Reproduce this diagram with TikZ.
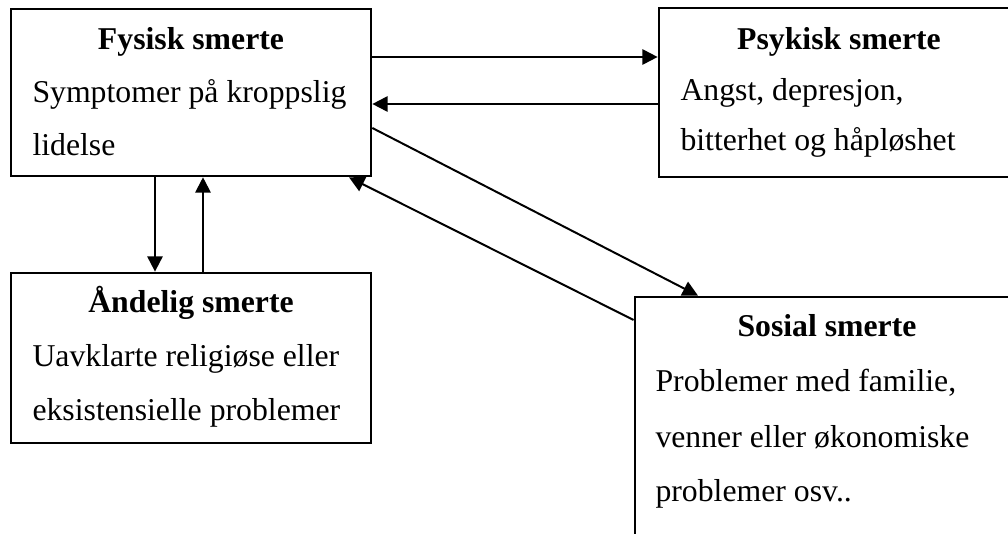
\documentclass[tikz,border=0pt]{standalone}
\usepackage{fontspec}
\setmainfont{Liberation Serif}
\usepackage{tikz}
\usetikzlibrary{arrows.meta}

\tikzset{
  painbox/.style={draw,line width=1pt,minimum width=136.1pt,inner sep=0pt},
  ttl/.style={anchor=base,inner sep=0pt,font=\fontsize{12}{14}\selectfont\bfseries},
  txt/.style={anchor=base west,inner sep=0pt,font=\fontsize{12}{14}\selectfont},
  arr/.style={-{Triangle[length=5.8pt,width=5.8pt]},line width=0.75pt}
}

\begin{document}
\begin{tikzpicture}[x=0.378pt,y=-0.378pt]
    \path[use as bounding box,clip] (0,0) rectangle (1008,534);

    % Fysisk smerte
    \node[painbox,minimum height=63.1pt] (fys) at (191,92.5) {};
    \node[ttl] (fys-t) at (191,50) {Fysisk smerte};
    \foreach \ln [count=\i] in {Symptomer på kroppslig, lidelse}
      \node[txt] (fys-\i) at (32,{50+53*\i}) {\ln};

    % Psykisk smerte
    \node[painbox,minimum height=63.9pt] (psy) at (839,92.5) {};
    \node[ttl] (psy-t) at (839,50) {Psykisk smerte};
    \foreach \ln [count=\i] in {{Angst, depresjon,}, {bitterhet og håpløshet}}
      \node[txt] (psy-\i) at (680,{50+50.5*\i}) {\ln};

    % Aandelig smerte
    \node[painbox,minimum height=64.3pt] (and) at (191,358) {};
    \node[ttl] (and-t) at (191,313) {Åndelig smerte};
    \foreach \ln [count=\i] in {Uavklarte religiøse eller, eksistensielle problemer}
      \node[txt] (and-\i) at (32,{313+54*\i}) {\ln};

    % Sosial smerte
    \node[painbox,minimum width=145.2pt,minimum height=107pt] (sos) at (827,438.5) {};
    \node[ttl] (sos-t) at (827,337) {Sosial smerte};
    \foreach \ln [count=\i] in {{Problemer med familie,}, {venner eller økonomiske}, {problemer osv..}}
      \node[txt] (sos-\i) at (655,{337+55*\i}) {\ln};

    % Arrows
    \draw[arr] (fys.east |- 0,57) -- (psy.west |- 0,57);
    \draw[arr] (psy.west |- 0,104) -- (fys.east |- 0,104);
    \draw[arr] (fys.south -| 155,0) -- (and.north -| 155,0);
    \draw[arr] (and.north -| 203,0) -- (fys.south -| 203,0);
    \draw[arr] (fys.east |- 0,128) -- (sos.north -| 698,0);
    \draw[arr] (sos.west |- 0,320) -- (fys.south -| 349,0);
\end{tikzpicture}
\end{document}
